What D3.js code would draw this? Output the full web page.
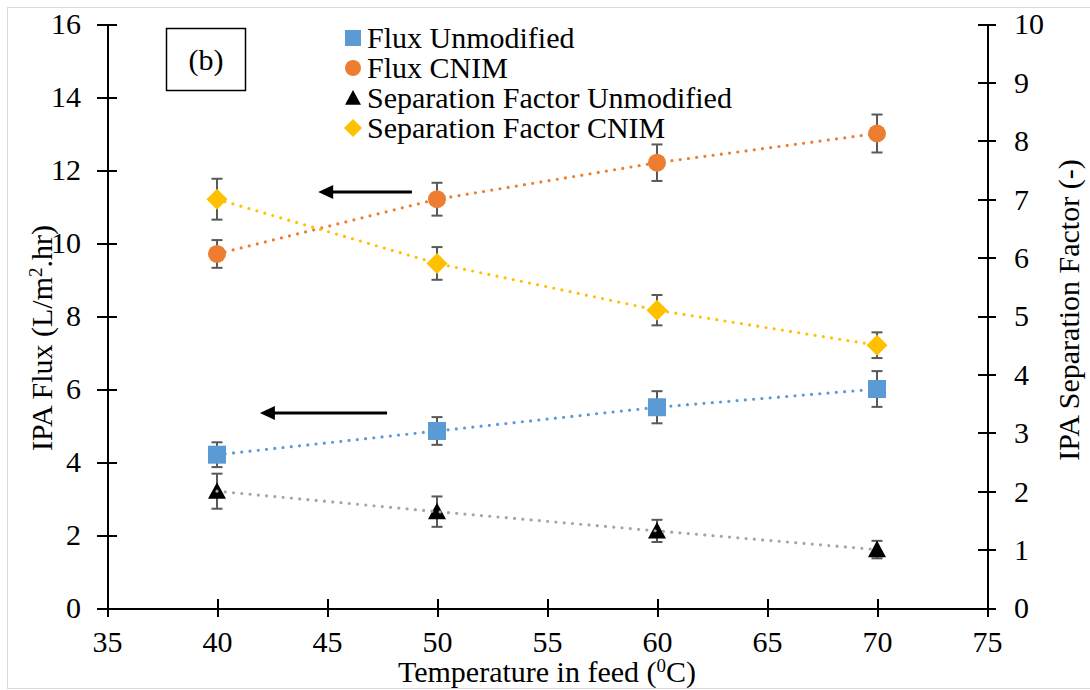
<!DOCTYPE html>
<html>
<head>
<script src="https://d3js.org/d3.v7.min.js"></script>
<style>
  body { margin: 0; background: #fff; }
  text { font-family: "Liberation Serif", "Times New Roman", serif; fill: #000; }
  .axis path, .axis line { stroke: #000; stroke-width: 2; shape-rendering: crispEdges; }
</style>
</head>
<body>
<svg width="1090" height="690"></svg>
<script>
// data
const temps = [40, 50, 60, 70];
const fluxUnmod = [4.2, 4.85, 5.5, 6.0];
const fluxUnmodErr = [0.34, 0.38, 0.44, 0.49];
const fluxCnim = [9.7, 11.2, 12.2, 13.0];
const fluxCnimErr = [0.38, 0.45, 0.5, 0.52];
const sfUnmod = [2.0, 1.65, 1.32, 1.0];
const sfUnmodErr = [0.3, 0.26, 0.19, 0.15];
const sfCnim = [7.0, 5.9, 5.1, 4.5];
const sfCnimErr = [0.35, 0.28, 0.26, 0.22];

// tick values
const xTicks = [35, 40, 45, 50, 55, 60, 65, 70, 75];
const leftTicks = [0, 2, 4, 6, 8, 10, 12, 14, 16];
const rightTicks = [0, 1, 2, 3, 4, 5, 6, 7, 8, 9, 10];

// legend labels
const legendLabels = ["Flux Unmodified", "Flux CNIM", "Separation Factor Unmodified", "Separation Factor CNIM"];

// arrows pointing at the left axis (x from, x to, y on left axis)
const arrows = [
  { x1: 48.86, x2: 44.6, y: 11.4 },
  { x1: 47.73, x2: 41.95, y: 5.34 }
];

const FS = "30px";
const svg = d3.select("svg");

// outer frame
svg.append("rect")
  .attr("x", 7.5).attr("y", 7.5)
  .attr("width", 1095).attr("height", 681)
  .attr("fill", "none").attr("stroke", "#d9d9d9");

const x = d3.scaleLinear().domain([35, 75]).range([107, 987]);
const yL = d3.scaleLinear().domain([0, 16]).range([608, 24]);
const yR = d3.scaleLinear().domain([0, 10]).range([608, 24]);

// axes with ticks crossing the line
const xAxis = svg.append("g").attr("class", "axis")
  .attr("transform", `translate(0,${yL(0)})`)
  .call(d3.axisBottom(x).tickValues(xTicks).tickSize(0).tickPadding(0));
xAxis.selectAll(".tick line").attr("y1", -9).attr("y2", 9);
xAxis.selectAll(".tick text").attr("y", 44).attr("dy", 0).style("font-size", FS);

const leftAxis = svg.append("g").attr("class", "axis")
  .attr("transform", `translate(${x(35)},0)`)
  .call(d3.axisLeft(yL).tickValues(leftTicks).tickSize(0));
leftAxis.selectAll(".tick line").attr("x1", -10).attr("x2", 10);
leftAxis.selectAll(".tick text").attr("x", -26).attr("dy", "0.33em").style("font-size", FS);

const rightAxis = svg.append("g").attr("class", "axis")
  .attr("transform", `translate(${x(75)},0)`)
  .call(d3.axisRight(yR).tickValues(rightTicks).tickSize(0));
rightAxis.selectAll(".tick line").attr("x1", -9).attr("x2", 9);
rightAxis.selectAll(".tick text").attr("x", 27).attr("dy", "0.33em").style("font-size", FS);

svg.selectAll(".axis .domain").attr("stroke", "#000").attr("stroke-width", 2);

// axis titles
const xt = svg.append("text")
  .attr("x", (x(35) + x(75)) / 2).attr("y", 682)
  .attr("text-anchor", "middle").style("font-size", FS);
xt.append("tspan").text("Temperature in feed (");
xt.append("tspan").attr("baseline-shift", "super").style("font-size", "19px").text("0");
xt.append("tspan").text("C)");

const ylt = svg.append("text")
  .attr("transform", "translate(52,338) rotate(-90)")
  .attr("text-anchor", "middle").style("font-size", FS);
ylt.append("tspan").text("IPA Flux (L/m");
ylt.append("tspan").attr("baseline-shift", "super").style("font-size", "19px").text("2");
ylt.append("tspan").text(".hr)");

svg.append("text")
  .attr("transform", "translate(1079,310) rotate(-90)")
  .attr("text-anchor", "middle").style("font-size", FS)
  .text("IPA Separation Factor (-)");

// series definitions
const series = [
  { vals: fluxUnmod, err: fluxUnmodErr, y: yL, color: "#5b9bd5", line: "#5b9bd5", shape: "square" },
  { vals: fluxCnim, err: fluxCnimErr, y: yL, color: "#ed7d31", line: "#ed7d31", shape: "circle" },
  { vals: sfUnmod, err: sfUnmodErr, y: yR, color: "#000000", line: "#a5a5a5", shape: "triangle" },
  { vals: sfCnim, err: sfCnimErr, y: yR, color: "#ffc000", line: "#ffc000", shape: "diamond" }
];

function markerPath(shape, s) {
  const h = s / 2;
  if (shape === "square") return `M${-h},${-h}H${h}V${h}H${-h}Z`;
  if (shape === "circle") return d3.symbol(d3.symbolCircle, Math.PI * h * h)();
  if (shape === "triangle") return `M0,${-h}L${h},${h * 0.85}L${-h},${h * 0.85}Z`;
  return `M0,${-h}L${h},0L0,${h}L${-h},0Z`;
}

// error bars
series.forEach(s => {
  const g = svg.append("g").attr("stroke", "#595959").attr("stroke-width", 2).attr("fill", "none");
  temps.forEach((t, i) => {
    const cx = x(t), top = s.y(s.vals[i] + s.err[i]), bot = s.y(s.vals[i] - s.err[i]);
    g.append("line").attr("x1", cx).attr("x2", cx).attr("y1", top).attr("y2", bot);
    g.append("line").attr("x1", cx - 5.5).attr("x2", cx + 5.5).attr("y1", top).attr("y2", top);
    g.append("line").attr("x1", cx - 5.5).attr("x2", cx + 5.5).attr("y1", bot).attr("y2", bot);
  });
});

// markers
series.forEach(s => {
  svg.append("g").selectAll("path")
    .data(temps)
    .enter().append("path")
    .attr("transform", (t, i) => `translate(${x(t)},${s.y(s.vals[i])})`)
    .attr("d", markerPath(s.shape, s.shape === "diamond" ? 21 : 18))
    .attr("fill", s.color);
});

// dotted connecting lines
series.forEach(s => {
  const line = d3.line().x((t) => x(t)).y((t, i) => s.y(s.vals[i]));
  svg.append("path")
    .datum(temps)
    .attr("d", line)
    .attr("fill", "none")
    .attr("stroke", s.line)
    .attr("stroke-width", 3.2)
    .attr("stroke-linecap", "round")
    .attr("stroke-dasharray", "0 8.3");
});

// arrows
arrows.forEach(a => {
  const x1 = x(a.x1), x2 = x(a.x2), yy = yL(a.y);
  svg.append("line")
    .attr("x1", x1).attr("x2", x2 + 12).attr("y1", yy).attr("y2", yy)
    .attr("stroke", "#000").attr("stroke-width", 3);
  svg.append("path")
    .attr("d", `M${x2},${yy}L${x2 + 15},${yy - 7}L${x2 + 15},${yy + 7}Z`)
    .attr("fill", "#000");
});

// (b) box
svg.append("rect")
  .attr("x", 166.5).attr("y", 28.5).attr("width", 79).attr("height", 62)
  .attr("fill", "none").attr("stroke", "#000").attr("stroke-width", 1.5);
svg.append("text")
  .attr("x", 206).attr("y", 70).attr("text-anchor", "middle")
  .style("font-size", FS).text("(b)");

// legend
const legend = svg.append("g");
legendLabels.forEach((lab, i) => {
  const cy = 38 + i * 30;
  legend.append("path")
    .attr("transform", `translate(353,${cy})`)
    .attr("d", markerPath(series[i].shape, series[i].shape === "diamond" ? 18 : 16))
    .attr("fill", series[i].color);
  legend.append("text")
    .attr("x", 367).attr("y", cy + 10)
    .style("font-size", FS).text(lab);
});
</script>
</body>
</html>
